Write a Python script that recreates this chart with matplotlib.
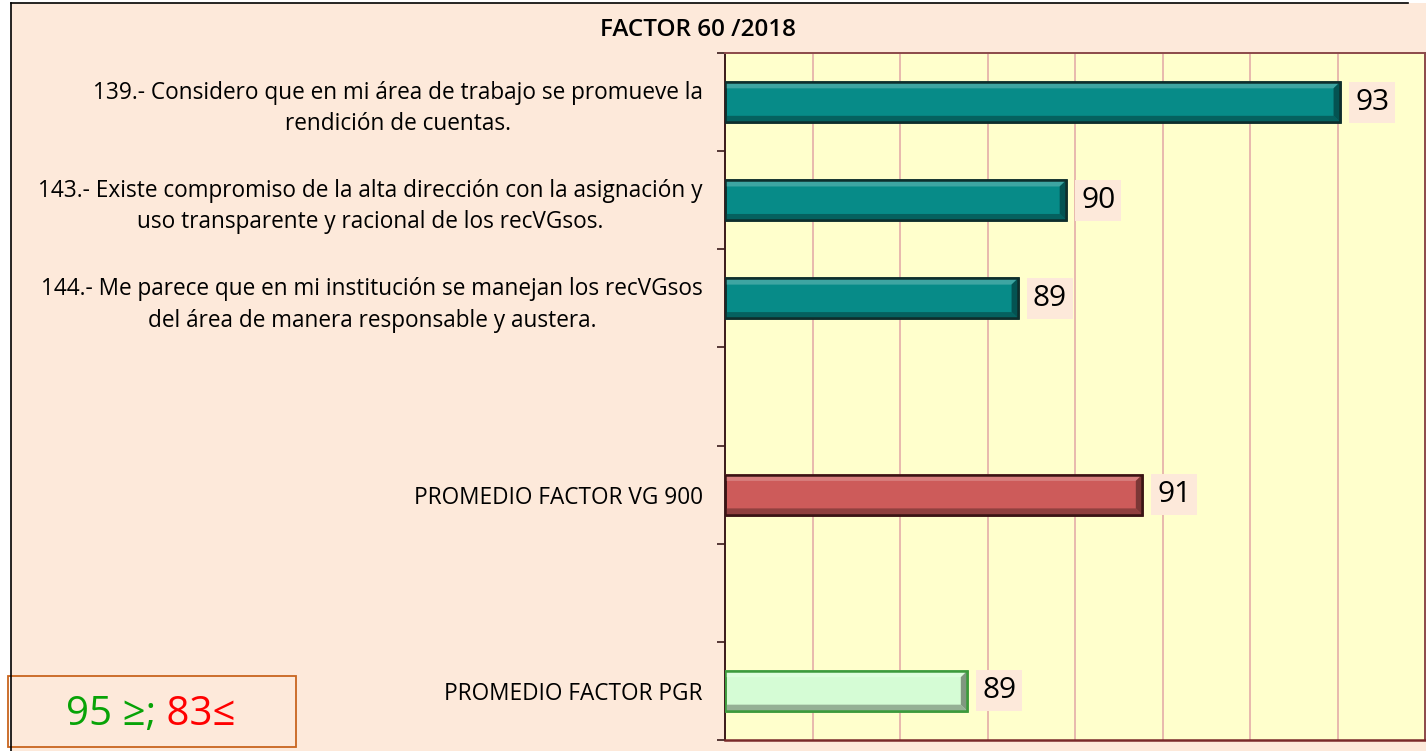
import numpy as np
import matplotlib.pyplot as plt
from matplotlib.patches import Polygon, Rectangle
from matplotlib.lines import Line2D
from matplotlib.colors import to_rgb

# ==================================
# DATA
# ==================================
TITLE = "FACTOR 60 /2018"

categories = [
    "139.- Considero que en mi área de trabajo se promueve la\nrendición de cuentas.",
    "143.- Existe compromiso de la alta dirección con la asignación y\nuso transparente y racional de los recVGsos.",
    "144.- Me parece que en mi institución se manejan los recVGsos\ndel área de manera responsable y austera.",
    "",
    "PROMEDIO FACTOR VG 900",
    "",
    "PROMEDIO FACTOR PGR",
]
values = [93.03, 89.9, 89.35, None, 90.77, None, 88.77]
bar_colors = ["#078B88", "#078B88", "#078B88", None, "#CD5B5A", None, "#D5FCD5"]
edge_colors = ["#0E2E2C", "#0E2E2C", "#0E2E2C", None, "#3A1414", None, "#3C9A3C"]

XMIN, XMAX = 86, 94
legend_good = "95 ≥;"
legend_bad = "83≤"

PEACH = "#FDE9DA"
PLOT_BG = "#FFFFCC"

# ==================================
# FIGURE
# ==================================
plt.rcParams["font.family"] = ["Open Sans", "DejaVu Sans"]

fig = plt.figure(figsize=(14.26, 7.51), dpi=100, facecolor="white")
W, H = 1426, 751

# peach page with black frame on left/top
fig.patches.append(Rectangle((11 / W, 0), 1 - 11 / W, 1 - 3 / H, transform=fig.transFigure,
                             facecolor=PEACH, edgecolor="none", zorder=-10))
fig.lines.append(Line2D([11 / W, 11 / W], [0, 1 - 3 / H], transform=fig.transFigure,
                        color="black", lw=1.2))
fig.lines.append(Line2D([11 / W, 1408 / W], [1 - 3 / H, 1 - 3 / H], transform=fig.transFigure,
                        color="black", lw=1.2))

ax = fig.add_axes([725 / W, 11 / H, 700 / W, 687 / H])
ax.set_facecolor(PLOT_BG)

ypos = np.arange(len(categories))
bar_h = 0.41


def lighten(c, f):
    c = np.array(to_rgb(c))
    return tuple(c + (1 - c) * f)


def darken(c, f):
    c = np.array(to_rgb(c))
    return tuple(c * (1 - f))


bx = 0.075  # bevel in x (data units)
by = 0.065  # bevel in y (data units)
for y, v, fc, ec in zip(ypos, values, bar_colors, edge_colors):
    if v is None:
        continue
    ax.barh(y, v - XMIN, left=XMIN, height=bar_h, color=fc, edgecolor=ec, lw=1.8, zorder=3)
    x0, x1 = XMIN, v
    yt, yb = y - bar_h / 2, y + bar_h / 2
    # top highlight
    ax.add_patch(Polygon([[x0, yt], [x1, yt], [x1 - bx, yt + by], [x0, yt + by]],
                         closed=True, facecolor=lighten(fc, 0.22), edgecolor="none", zorder=4))
    # bottom shade
    ax.add_patch(Polygon([[x0, yb], [x1, yb], [x1 - bx, yb - by], [x0, yb - by]],
                         closed=True, facecolor=darken(fc, 0.3), edgecolor="none", zorder=4))
    # right end shade
    ax.add_patch(Polygon([[x1, yt], [x1, yb], [x1 - bx, yb - by], [x1 - bx, yt + by]],
                         closed=True, facecolor=darken(fc, 0.4), edgecolor="none", zorder=4))
    ax.barh(y, v - XMIN, left=XMIN, height=bar_h, color="none", edgecolor=ec, lw=1.8, zorder=5)
    ax.text(v + 0.17, y, f"{v:.0f}", ha="left", va="center", fontsize=21.5,
            fontweight="medium", color="black", zorder=6,
            bbox=dict(boxstyle="square,pad=0.2", facecolor=PEACH, edgecolor="none"))

ax.set_xlim(XMIN, XMAX)
ax.set_ylim(len(categories) - 0.5, -0.5)
ax.set_xticks(np.arange(XMIN + 1, XMAX))
ax.xaxis.grid(True, color="#E2A6A6", lw=1.1, zorder=0)
ax.tick_params(axis="x", length=0, labelbottom=False)

ax.set_yticks(ypos)
ax.set_yticklabels(categories, fontsize=16.3, fontweight="medium")
for t in ax.get_yticklabels():
    t.set_multialignment("center")
    t.set_linespacing(1.4)
ax.set_yticks(np.arange(-0.5, len(categories), 1), minor=True)
ax.tick_params(axis="y", which="major", length=0, pad=16)
ax.tick_params(axis="y", which="minor", length=6, width=1.2, color="#3A1A1A")

ax.spines["left"].set_color("#3A1A1A")
ax.spines["left"].set_linewidth(1.4)
ax.spines["bottom"].set_color("#7A2A2A")
ax.spines["bottom"].set_linewidth(1.8)
for s in ["top", "right"]:
    ax.spines[s].set_color("#8B4A4A")
    ax.spines[s].set_linewidth(1.4)

fig.text(698 / W, 1 - 30 / H, TITLE, ha="center", va="center", fontsize=17.5, fontweight="semibold")

# legend box bottom-left
fig.patches.append(Rectangle((8 / W, 4 / H), 288 / W, 71 / H, transform=fig.transFigure,
                             facecolor="none", edgecolor="#C8651E", lw=1.3))
t1 = fig.text(66 / W, 1 - 715 / H, legend_good, ha="left", va="center", fontsize=29, color="#07A307")
ax.annotate(" " + legend_bad, xy=(1, 0.5), xycoords=t1, va="center", ha="left",
            fontsize=29, color="#FF0000", annotation_clip=False)

fig.savefig("out.png", dpi=100, facecolor=fig.get_facecolor())
